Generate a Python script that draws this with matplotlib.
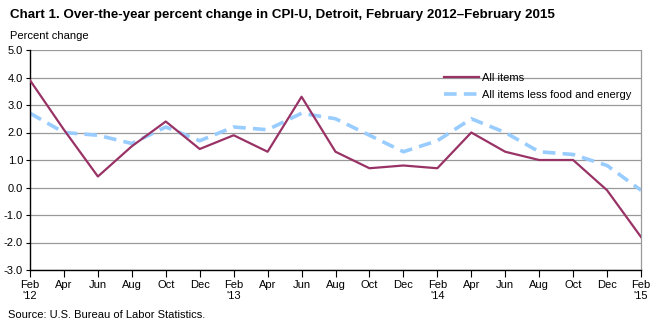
import matplotlib.pyplot as plt

plt.rcParams['font.family'] = ['Liberation Sans', 'DejaVu Sans']

# bimonthly, Feb 2012 - Feb 2015
months = ["Feb\n'12", "Apr", "Jun", "Aug", "Oct", "Dec",
          "Feb\n'13", "Apr", "Jun", "Aug", "Oct", "Dec",
          "Feb\n'14", "Apr", "Jun", "Aug", "Oct", "Dec",
          "Feb\n'15"]
all_items = [3.9, 2.1, 0.4, 1.5, 2.4, 1.4, 1.9, 1.3, 3.3, 1.3,
             0.7, 0.8, 0.7, 2.0, 1.3, 1.0, 1.0, -0.1, -1.8]
core = [2.7, 2.0, 1.9, 1.6, 2.2, 1.7, 2.2, 2.1, 2.7, 2.5,
        1.9, 1.3, 1.7, 2.5, 2.0, 1.3, 1.2, 0.8, -0.1]
y_ticks = [-3.0, -2.0, -1.0, 0.0, 1.0, 2.0, 3.0, 4.0, 5.0]

fig = plt.figure(figsize=(6.59, 3.26), dpi=100)
ax = fig.add_axes([30 / 659, 56 / 326, 611 / 659, 220 / 326])

x = list(range(len(months)))
ax.plot(x, all_items, color="#993366", lw=1.6, label="All items", zorder=3)
ax.plot(x, core, color="#99CCFF", lw=2.6, dashes=(3.5, 2), label="All items less food and energy", zorder=2)

ax.set_xlim(0, len(months) - 1)
ax.set_ylim(-3, 5)
ax.set_yticks(y_ticks)
ax.set_yticklabels([f"{v:.1f}" for v in y_ticks], fontsize=8)
ax.set_xticks(x)
ax.set_xticklabels(months, fontsize=8, linespacing=1.1)
ax.tick_params(axis="x", direction="out", length=5, width=0.8, pad=2)
ax.tick_params(axis="y", direction="out", length=3, width=0.8, pad=2)

ax.grid(axis="y", color="#999999", lw=0.9)
ax.set_axisbelow(True)
for side in ["left", "bottom"]:
    ax.spines[side].set_color("black")
    ax.spines[side].set_linewidth(1.0)
for side in ["top", "right"]:
    ax.spines[side].set_color("#999999")
    ax.spines[side].set_linewidth(0.9)
ax.spines["top"].set_visible(False)

ax.legend(loc="upper left", bbox_to_anchor=(0.67, 0.915), frameon=False, fontsize=8,
          handlelength=3.2, handletextpad=0.2, labelspacing=0.65, borderaxespad=0)

fig.text(10 / 659, 1 - 15 / 326, "Chart 1. Over-the-year percent change in CPI-U, Detroit, February 2012\u2013February 2015",
         fontsize=9.6, fontweight="bold", va="center")
fig.text(10 / 659, 1 - 36 / 326, "Percent change", fontsize=8, va="center")
fig.text(8 / 659, 1 - 315 / 326, "Source: U.S. Bureau of Labor Statistics.", fontsize=8, va="center")

fig.savefig("out.png", dpi=100)
